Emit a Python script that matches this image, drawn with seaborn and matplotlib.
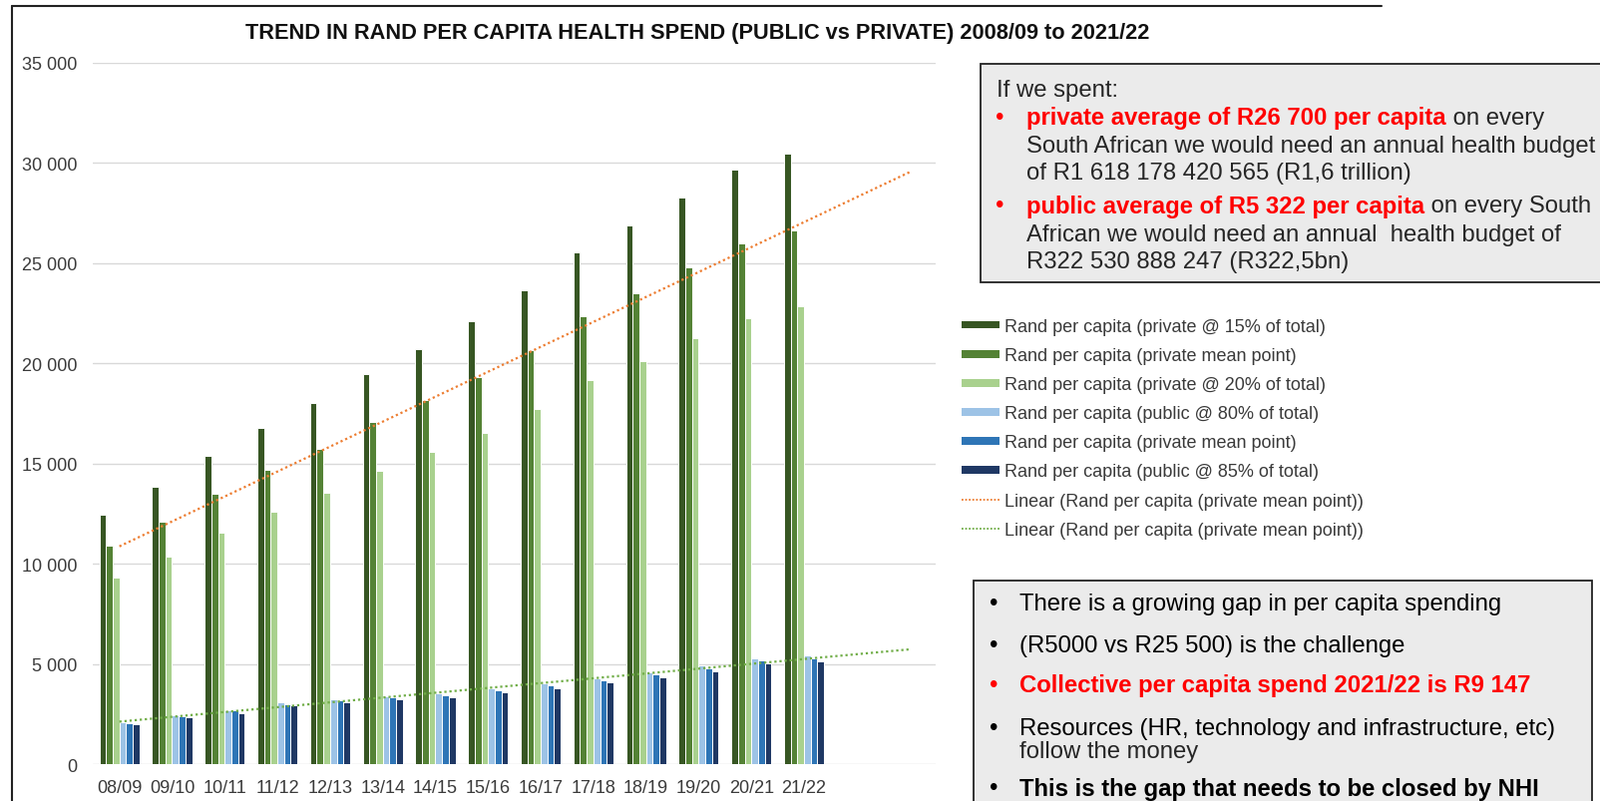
import numpy as np
import pandas as pd
import matplotlib
matplotlib.use("Agg")
import matplotlib.pyplot as plt
import seaborn as sns
from matplotlib.patches import Rectangle, Patch
from matplotlib.lines import Line2D

# ---------------- data ----------------
periods = ['08/09', '09/10', '10/11', '11/12', '12/13', '13/14', '14/15',
           '15/16', '16/17', '17/18', '18/19', '19/20', '20/21', '21/22']

private_15 = [12470, 13830, 15370, 16780, 18010, 19480, 20730, 22090, 23630, 25540, 26880, 28270, 29670, 30460]
private_mean = [10900, 12090, 13480, 14690, 15740, 17090, 18150, 19330, 20680, 22370, 23500, 24790, 25970, 26650]
private_20 = [9320, 10360, 11540, 12590, 13550, 14630, 15580, 16530, 17740, 19180, 20130, 21260, 22240, 22840]
public_80 = [2100, 2470, 2720, 3100, 3260, 3400, 3550, 3800, 4060, 4290, 4590, 4920, 5290, 5420]
public_mean = [2050, 2390, 2690, 2990, 3200, 3350, 3430, 3710, 3960, 4210, 4490, 4790, 5170, 5290]
public_85 = [2000, 2340, 2550, 2940, 3120, 3250, 3350, 3600, 3800, 4090, 4360, 4640, 5040, 5120]

series_keys = ['priv15', 'privmean', 'priv20', 'pub80', 'pubmean', 'pub85']
series_labels = ['Rand per capita (private @ 15% of total)',
                 'Rand per capita (private mean point)',
                 'Rand per capita (private @ 20% of total)',
                 'Rand per capita (public @ 80% of total)',
                 'Rand per capita (private mean point)',
                 'Rand per capita (public @ 85% of total)']
trend_labels = ['Linear (Rand per capita (private mean point))',
                'Linear (Rand per capita (private mean point))']
yticks = [0, 5000, 10000, 15000, 20000, 25000, 30000, 35000]

title = 'TREND IN RAND PER CAPITA HEALTH SPEND (PUBLIC vs PRIVATE) 2008/09 to 2021/22'

colors = ['#375623', '#548235', '#a9d18e', '#9dc3e6', '#2e75b6', '#1f3864']
orange = '#ed7d31'
green_tr = '#70ad47'

values = [private_15, private_mean, private_20, public_80, public_mean, public_85]
rows = []
for key, vals in zip(series_keys, values):
    for p, v in zip(periods, vals):
        rows.append({'period': p, 'series': key, 'value': v})
df = pd.DataFrame(rows)

# ---------------- figure ----------------
sns.set_style('white')
plt.rcParams['font.family'] = ['Liberation Sans', 'DejaVu Sans']

W, H = 1604, 804
fig = plt.figure(figsize=(W / 100, H / 100), dpi=100)


def fx(x):
    return x / W


def fy(y):
    return 1 - y / H


ax_left, ax_right, ax_top, ax_bottom = 93.3, 938, 63.8, 767.3
ax = fig.add_axes([fx(ax_left), fy(ax_bottom), (ax_right - ax_left) / W, (ax_bottom - ax_top) / H])

sns.barplot(data=df, x='period', y='value', hue='series', hue_order=series_keys,
            order=periods, palette=colors, saturation=1, width=0.76,
            edgecolor='white', linewidth=0.7, ax=ax, legend=False, errorbar=None)

# linear trend lines (Excel-style, forecast 2 periods forward)
xs = np.arange(len(periods))
xt = np.arange(0, len(periods) + 2)
c1 = np.polyfit(xs, private_mean, 1)
c2 = np.polyfit(xs, public_mean, 1)
ax.plot(xt, np.polyval(c1, xt), color=orange, lw=1.6, linestyle=(0, (1, 1.3)), zorder=5)
ax.plot(xt, np.polyval(c2, xt), color=green_tr, lw=1.6, linestyle=(0, (1, 1.3)), zorder=5)

ax.set_xlim(-0.5, 15.5)
ax.set_ylim(0, 35000)
ax.set_yticks(yticks)
ax.set_yticklabels([f'{v:,}'.replace(',', ' ') for v in yticks])
ax.set_xlabel('')
ax.set_ylabel('')
ax.grid(axis='y', color='#d9d9d9', lw=1.0)
ax.set_axisbelow(True)
for s in ax.spines.values():
    s.set_visible(False)
ax.tick_params(axis='y', length=0, pad=11.5, labelsize=13, labelcolor='#3a3a3a')
ax.tick_params(axis='x', length=0, pad=10.5, labelsize=13, labelcolor='#3a3a3a')

# title
fig.text(fx(698.7), fy(34), title, ha='center', va='center', fontsize=15.7,
         fontweight='bold', color='#111111')

# chart border (top and left)
fig.add_artist(Line2D([fx(11.7), fx(1385)], [fy(7.3), fy(7.3)], color='#222222', lw=1.5))
fig.add_artist(Line2D([fx(11.7), fx(11.7)], [fy(7.3), fy(810)], color='#222222', lw=1.5))

# legend
handles = [Patch(facecolor=c, edgecolor='none') for c in colors]
handles += [Line2D([0], [0], color=orange, lw=1.3, linestyle=(0, (1, 1))),
            Line2D([0], [0], color=green_tr, lw=1.3, linestyle=(0, (1, 1)))]
leg = fig.legend(handles, series_labels + trend_labels, loc='upper left',
                 bbox_to_anchor=(fx(964), fy(320)), frameon=False, fontsize=13,
                 handlelength=2.1, handleheight=0.3, handletextpad=0.3,
                 labelspacing=0.67, borderpad=0, borderaxespad=0)
for t in leg.get_texts():
    t.set_color('#3a3a3a')

# text box 1
fig.add_artist(Rectangle((fx(982.7), fy(284)), (1700 - 982.7) / W, (284 - 65) / H,
                         transform=fig.transFigure, facecolor='#ebebeb',
                         edgecolor='#222222', lw=1.3, zorder=1))
fs = 17.2
red = '#ff0000'
dy = 3
fig.text(fx(999), fy(88 + dy), 'If we spent:', fontsize=fs, va='center', ha='left', zorder=3)
fig.text(fx(1002.3), fy(116 + dy), '•', fontsize=fs, va='center', ha='center', color=red, zorder=3)
t1 = fig.text(fx(1029), fy(116 + dy), 'private average of R26 700 per capita', fontsize=fs,
              va='center', ha='left', color=red, fontweight='bold', zorder=3)
fig.text(fx(1029), fy(143.5 + dy), 'South African we would need an annual health budget', fontsize=fs,
         va='center', ha='left', zorder=3)
fig.text(fx(1029), fy(171 + dy), 'of R1 618 178 420 565 (R1,6 trillion)', fontsize=fs,
         va='center', ha='left', zorder=3)
fig.text(fx(1002.3), fy(204.5 + dy), '•', fontsize=fs, va='center', ha='center', color=red, zorder=3)
t2 = fig.text(fx(1029), fy(204.5 + dy), 'public average of R5 322 per capita', fontsize=fs,
              va='center', ha='left', color=red, fontweight='bold', zorder=3)
fig.text(fx(1029), fy(233 + dy), 'African we would need an annual  health budget of', fontsize=fs,
         va='center', ha='left', zorder=3)
fig.text(fx(1029), fy(260 + dy), 'R322 530 888 247 (R322,5bn)', fontsize=fs,
         va='center', ha='left', zorder=3)

# continue the mixed-colour lines right after the red bold runs
fig.canvas.draw()
renderer = fig.canvas.get_renderer()
for tt, rest, y in [(t1, ' on every', 116 + dy), (t2, ' on every South', 204.5 + dy)]:
    bb = tt.get_window_extent(renderer=renderer)
    fig.text(bb.x1 / W, fy(y), rest, fontsize=fs, va='center', ha='left', zorder=3)

# text box 2
fig.add_artist(Rectangle((fx(976), fy(830)), (1596 - 976) / W, (830 - 582.7) / H,
                         transform=fig.transFigure, facecolor='#ebebeb',
                         edgecolor='#222222', lw=1.3, zorder=1))
lines2 = [
    (606.5, 'There is a growing gap in per capita spending', 'black', 'normal'),
    (648, '(R5000 vs R25 500) is the challenge', 'black', 'normal'),
    (688, 'Collective per capita spend 2021/22 is R9 147', red, 'bold'),
    (731, 'Resources (HR, technology and infrastructure, etc)', 'black', 'normal'),
    (791.5, 'This is the gap that needs to be closed by NHI', 'black', 'bold'),
]
for y, txt, col, wt in lines2:
    fig.text(fx(996), fy(y), '•', fontsize=fs, va='center', ha='center', color=col, zorder=3)
    fig.text(fx(1022), fy(y), txt, fontsize=fs, va='center', ha='left', color=col,
             fontweight=wt, zorder=3)
fig.text(fx(1022), fy(754), 'follow the money', fontsize=fs, va='center', ha='left', zorder=3)

fig.savefig('out.png', dpi=100)
